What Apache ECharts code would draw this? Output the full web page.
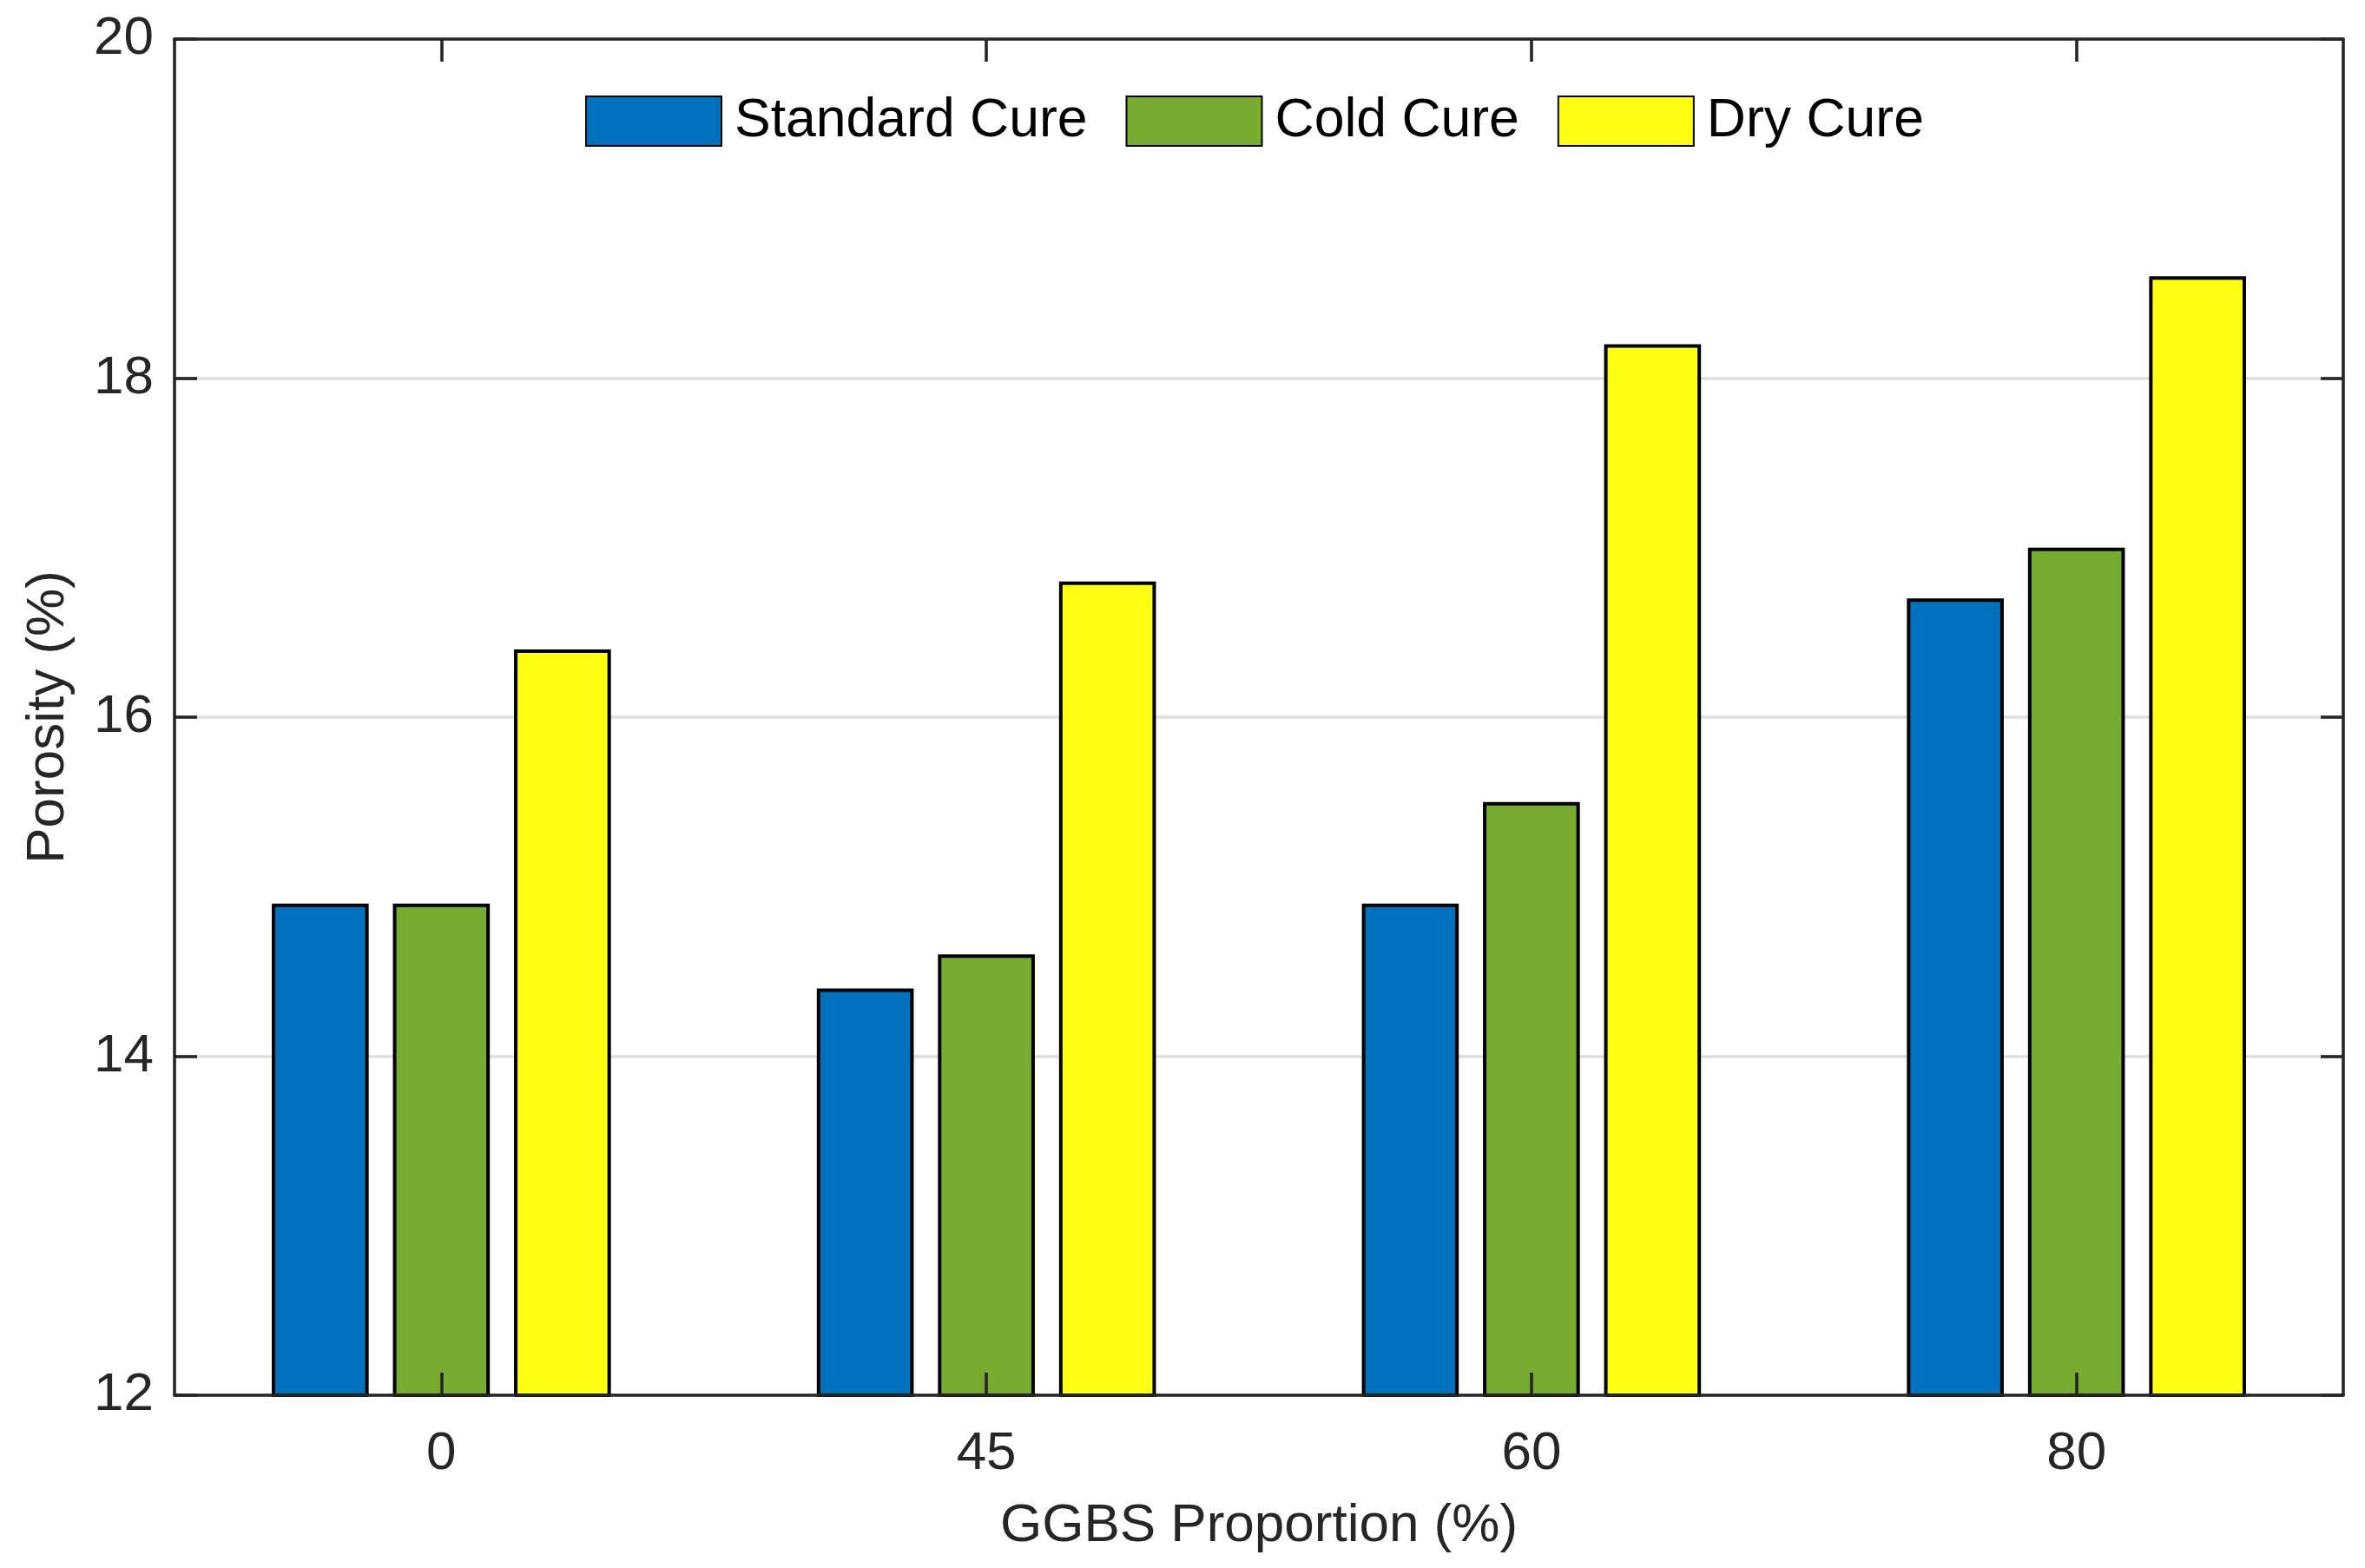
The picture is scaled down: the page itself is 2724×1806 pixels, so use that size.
<!DOCTYPE html>
<html>
<head>
<meta charset="utf-8">
<script src="https://cdn.jsdelivr.net/npm/echarts@6/dist/echarts.min.js"></script>
<style>html,body{margin:0;padding:0;background:#fff}#c{width:2724px;height:1806px}</style>
</head>
<body>
<div id="c"></div>
<script>
var categories = ['0', '45', '60', '80'];
var seriesNames = ['Standard Cure', 'Cold Cure', 'Dry Cure'];
var standardCure = [14.9, 14.4, 14.9, 16.7];
var coldCure = [14.9, 14.6, 15.5, 17.0];
var dryCure = [16.4, 16.8, 18.2, 18.6];
var yTicks = [12, 14, 16, 18, 20];
var colors = ['#0072BD', '#77AC30', '#FFFF11'];

var FONT = 'Liberation Sans';
var AX = '#262626';
var AXW = 3.6;
var positions = categories.map(function (c, i) { return i + 1; });
var chart = echarts.init(document.getElementById('c'));
var values = [standardCure, coldCure, dryCure];
var series = values.map(function (v, i) {
  return {
    name: seriesNames[i], type: 'bar',
    data: v.map(function (y, j) { return [positions[j], y]; }),
    barWidth: 111.6, barGap: '25%',
    itemStyle: { color: colors[i], borderColor: '#000', borderWidth: 4 },
    emphasis: { disabled: true }
  };
});
function catLabel(val) {
  var idx = Math.round(val) - 1;
  return categories[idx] !== undefined ? categories[idx] : '';
}
var xCommon = {
  type: 'value', min: 0.5104, max: 4.4896, z: 5,
  axisLine: { show: true, lineStyle: { color: AX, width: AXW } },
  axisTick: { show: true, inside: true, length: 26, customValues: positions, lineStyle: { color: AX, width: AXW } },
  splitLine: { show: false }
};
chart.setOption({
  animation: false,
  backgroundColor: '#fff',
  textStyle: { fontFamily: FONT },
  legend: {
    top: 108, left: 674, padding: 0,
    itemWidth: 156, itemHeight: 57, itemGap: 44, icon: 'rect',
    textStyle: { fontFamily: FONT, fontSize: 62.5, color: '#000', padding: [0, 0, 0, 10] },
    data: seriesNames
  },
  grid: { left: 201, right: 25, top: 45, bottom: 199 },
  xAxis: [Object.assign({}, xCommon, {
    position: 'bottom',
    name: 'GGBS Proportion (%)', nameLocation: 'middle', nameGap: 120,
    nameTextStyle: { fontFamily: FONT, fontSize: 62, color: AX },
    axisLabel: { fontFamily: FONT, fontSize: 62, color: AX, margin: 37, customValues: positions, formatter: catLabel }
  }), Object.assign({}, xCommon, {
    position: 'top',
    axisLabel: { show: false }
  })],
  yAxis: [{
    type: 'value', min: yTicks[0], max: yTicks[yTicks.length - 1], interval: 2, position: 'left',
    name: 'Porosity (%)', nameLocation: 'middle', nameGap: 114,
    nameTextStyle: { fontFamily: FONT, fontSize: 62, color: AX },
    axisLine: { show: true, lineStyle: { color: AX, width: AXW } },
    axisTick: { show: true, inside: true, length: 26, lineStyle: { color: AX, width: AXW } },
    axisLabel: { fontFamily: FONT, fontSize: 62, color: AX, margin: 24 },
    splitLine: { show: true, lineStyle: { color: '#DFDFDF', width: AXW } }
  }, {
    type: 'value', min: yTicks[0], max: yTicks[yTicks.length - 1], interval: 2, position: 'right', z: 5,
    axisLine: { show: true, lineStyle: { color: AX, width: AXW } },
    axisTick: { show: true, inside: true, length: 26, lineStyle: { color: AX, width: AXW } },
    axisLabel: { show: false }, splitLine: { show: false }
  }],
  series: series
});
</script>
</body>
</html>
